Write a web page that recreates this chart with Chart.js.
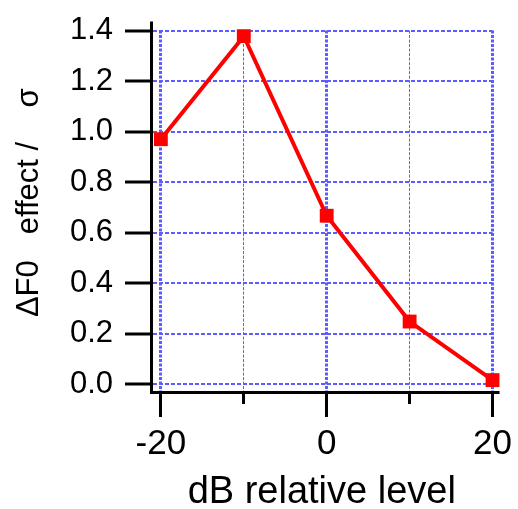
<!DOCTYPE html>
<html>
<head>
<meta charset="utf-8">
<script src="https://cdn.jsdelivr.net/npm/chart.js@4/dist/chart.umd.min.js"></script>
<style>
  html, body { margin: 0; padding: 0; background: #ffffff; }
  #wrap { width: 518px; height: 509px; }
</style>
</head>
<body>
<div id="wrap"><canvas id="c" width="518" height="509"></canvas></div>
<script>
// ---- data ----
const levels = [-20, -10, 0, 10, 20];               // dB relative level
const effectValues = [0.97, 1.378, 0.667, 0.248, 0.016]; // ΔF0 effect / σ
const xTickValues = [-20, -10, 0, 10, 20];
const xLabelValues = [-20, 0, 20];
const yTickValues = [0, 0.2, 0.4, 0.6, 0.8, 1.0, 1.2, 1.4];
const xTitle = 'dB relative level';
const yTitle = '  ΔF0   effect /    σ';

const FONT = "'Liberation Sans', Arial, Helvetica, sans-serif";
const GRID = 'rgb(92,92,255)';

const axisExtend = {
  id: 'axisExtend',
  afterDatasetsDraw(chart) {
    const { ctx, chartArea } = chart;
    const al = p => Math.round(p - 1.5) + 1.5;
    ctx.save();
    ctx.strokeStyle = '#000';
    ctx.lineWidth = 3;
    ctx.beginPath();
    ctx.moveTo(al(chartArea.left), chartArea.top);
    ctx.lineTo(al(chartArea.left), chartArea.top - 9);
    ctx.moveTo(chartArea.right, al(chartArea.bottom));
    ctx.lineTo(chartArea.right + 7, al(chartArea.bottom));
    ctx.stroke();
    ctx.restore();
  }
};

const isMajorX = v => xLabelValues.includes(v);

new Chart(document.getElementById('c'), {
  type: 'line',
  data: {
    datasets: [{
      data: levels.map((x, i) => ({ x, y: effectValues[i] })),
      borderColor: '#ff0000',
      backgroundColor: '#ff0000',
      borderWidth: 4,
      pointStyle: 'rect',
      pointRadius: 9.8,
      pointHoverRadius: 9.8,
      pointBorderWidth: 0,
      pointBackgroundColor: '#ff0000',
      tension: 0,
      clip: false
    }]
  },
  options: {
    responsive: false,
    animation: false,
    events: [],
    layout: { padding: { top: 27, right: 21, left: 0, bottom: 0 } },
    plugins: { legend: { display: false }, tooltip: { enabled: false } },
    scales: {
      x: {
        type: 'linear',
        min: -21.19,
        max: 20,
        afterBuildTicks: s => { s.ticks = xTickValues.map(v => ({ value: v })); },
        afterFit: s => { s.height = 117; },
        ticks: {
          autoSkip: false,
          maxRotation: 0,
          padding: 6,
          color: '#000',
          font: { family: FONT, size: 35 },
          callback: v => isMajorX(v) ? String(v) : ''
        },
        grid: {
          color: GRID,
          lineWidth: c => (c.tick && isMajorX(c.tick.value)) ? 3 : 1,
          tickColor: '#000',
          tickWidth: 3,
          tickLength: 25,
          tickBorderDash: c => (c.tick && !isMajorX(c.tick.value)) ? [10, 100] : []
        },
        border: {
          display: true,
          color: '#000',
          width: 3,
          dash: c => (c.tick && isMajorX(c.tick.value)) ? [3, 1.5] : [3, 1.5]
        },
        title: {
          display: true,
          text: xTitle,
          color: '#000',
          font: { family: FONT, size: 38, lineHeight: 0.8 },
          padding: { top: 0, bottom: 1 }
        }
      },
      y: {
        type: 'linear',
        min: -0.031,
        max: 1.4,
        afterBuildTicks: s => { s.ticks = yTickValues.map(v => ({ value: v })); },
        afterFit: s => { s.width = 151; },
        ticks: {
          padding: 12,
          color: '#000',
          font: { family: FONT, size: 31 },
          callback: v => Number(v).toFixed(1)
        },
        grid: {
          color: GRID,
          lineWidth: 2,
          tickColor: '#000',
          tickWidth: 3,
          tickLength: 26
        },
        border: {
          display: true,
          color: '#000',
          width: 3,
          dash: [4, 2]
        },
        title: {
          display: true,
          text: yTitle,
          color: '#000',
          font: { family: FONT, size: 31 },
          padding: { top: 11, bottom: 0 }
        }
      }
    }
  },
  plugins: [axisExtend]
});
</script>
</body>
</html>
